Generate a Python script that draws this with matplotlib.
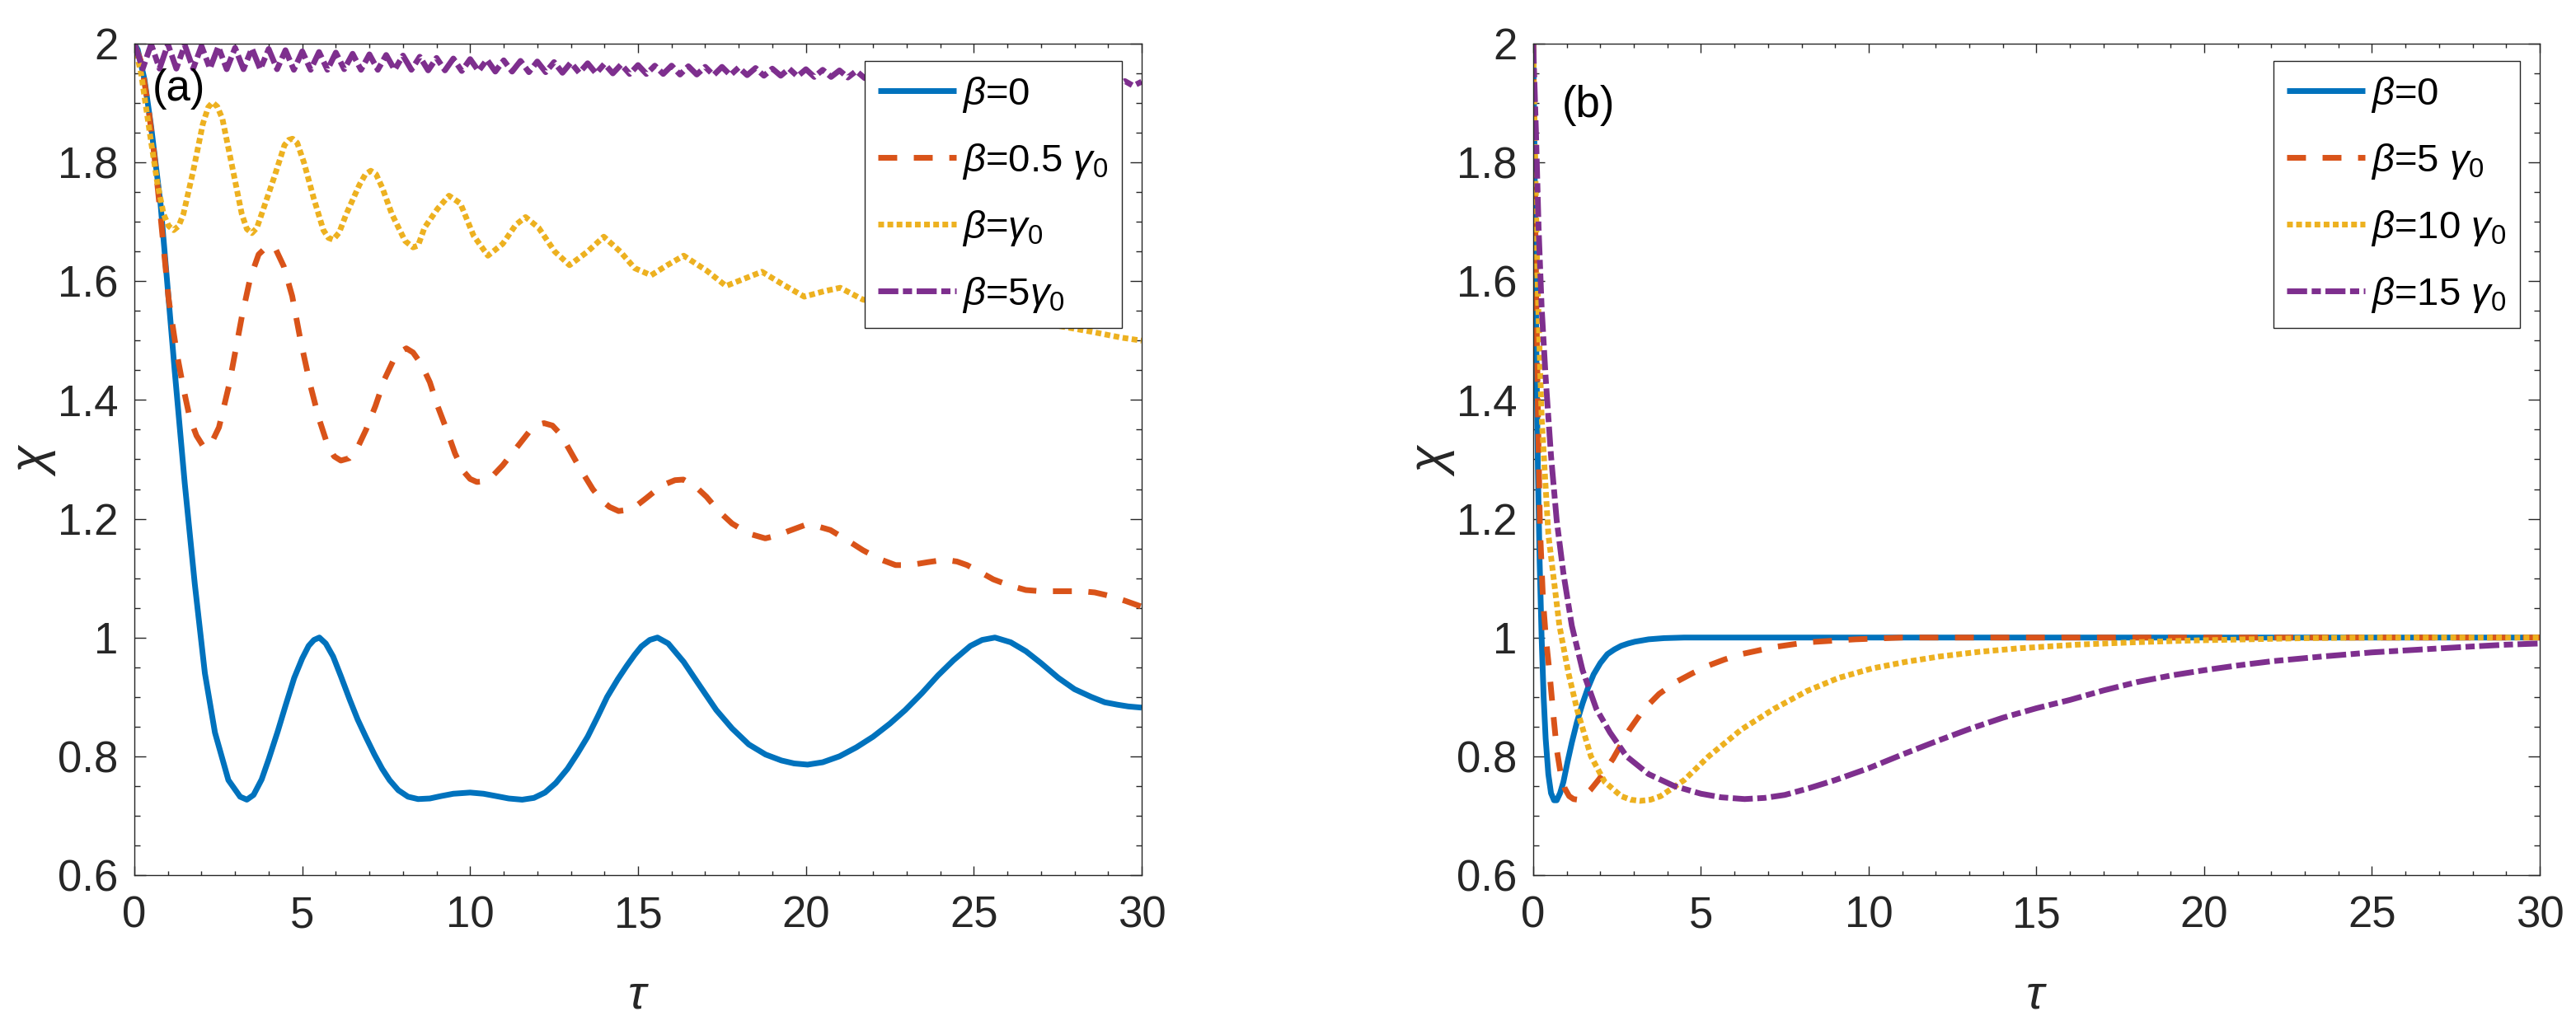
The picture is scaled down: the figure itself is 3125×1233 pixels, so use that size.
import matplotlib
matplotlib.use('Agg')
import matplotlib.pyplot as plt
from matplotlib.ticker import MultipleLocator, FixedLocator, FixedFormatter

plt.rcParams['font.family'] = ['Liberation Sans', 'DejaVu Sans']
plt.rcParams['mathtext.fontset'] = 'custom'
plt.rcParams['mathtext.rm'] = 'Liberation Sans'
plt.rcParams['mathtext.it'] = 'Liberation Sans:italic'
plt.rcParams['mathtext.bf'] = 'Liberation Sans:bold'

# ---------------- data: panel (a) ----------------
a_blue_t = [0, 0.1, 0.3, 0.5, 0.78, 0.9, 1.2, 1.5, 1.8, 2.1, 2.4, 2.8, 3.15, 3.35, 3.55, 3.79, 4.0, 4.27,
            4.5, 4.76, 5.0, 5.19, 5.35, 5.51, 5.7, 5.92, 6.15, 6.41, 6.65, 6.89, 7.15, 7.38, 7.6, 7.86,
            8.15, 8.45, 8.8, 9.13, 9.5, 10.0, 10.4, 10.78, 11.15, 11.55, 11.9, 12.23, 12.55, 12.9,
            13.2, 13.5, 13.8, 14.08, 14.4, 14.66, 14.9, 15.1, 15.35, 15.58, 15.9, 16.36, 16.8, 17.33,
            17.8, 18.3, 18.8, 19.27, 19.65, 20.05, 20.5, 21.0, 21.5, 22.0, 22.5, 22.96, 23.45, 23.93,
            24.4, 24.9, 25.25, 25.63, 26.1, 26.55, 27.0, 27.52, 28.0, 28.5, 28.9, 29.27, 29.6, 30.0]
a_blue_v = [2.0, 1.99, 1.94, 1.86, 1.73, 1.65, 1.45, 1.26, 1.09, 0.94, 0.84, 0.76, 0.732, 0.727, 0.735, 0.761, 0.795, 0.842,
            0.885, 0.932, 0.965, 0.986, 0.996, 1.0, 0.99, 0.968, 0.935, 0.896, 0.862, 0.833, 0.803, 0.779, 0.76, 0.743,
            0.732, 0.728, 0.729, 0.733, 0.737, 0.739, 0.737, 0.733, 0.729, 0.727, 0.73, 0.739, 0.755, 0.779,
            0.805, 0.833, 0.867, 0.90, 0.93, 0.952, 0.971, 0.985, 0.996, 1.0, 0.99, 0.959, 0.922, 0.878,
            0.847, 0.82, 0.803, 0.793, 0.788, 0.786, 0.79, 0.80, 0.815, 0.833, 0.855, 0.878, 0.906, 0.936,
            0.962, 0.986, 0.996, 1.0, 0.992, 0.977, 0.957, 0.932, 0.913, 0.90, 0.891, 0.887, 0.884, 0.882]

a_orange_t = [0, 0.2, 0.4, 0.6, 0.78, 1.02, 1.26, 1.46, 1.65, 1.85, 2.05, 2.25, 2.52, 2.82, 3.2, 3.45, 3.7,
              3.98, 4.2, 4.45, 4.7, 4.95, 5.24, 5.49, 5.75, 5.95, 6.15, 6.4, 6.65, 6.9, 7.18, 7.45, 7.7,
              7.9, 8.1, 8.3, 8.55, 8.8, 9.03, 9.3, 9.55, 9.8, 10.0, 10.2, 10.4, 10.6, 10.97, 11.36, 11.75,
              12.0, 12.2, 12.45, 12.7, 12.9, 13.15, 13.4, 13.65, 13.9, 14.15, 14.42, 14.7, 15.0, 15.25,
              15.49, 15.8, 16.1, 16.35, 16.7, 17.04, 17.4, 17.8, 18.3, 18.79, 19.15, 19.47, 19.95, 20.3,
              20.73, 21.2, 21.7, 22.2, 22.67, 23.1, 23.64, 24.13, 24.5, 24.8, 25.2, 25.58, 26.05, 26.55,
              27.0, 27.52, 28.2, 28.6, 28.98, 29.5, 30.0]
a_orange_v = [2.0, 1.97, 1.90, 1.81, 1.71, 1.57, 1.48, 1.42, 1.37, 1.34, 1.322, 1.322, 1.354, 1.425, 1.54, 1.605, 1.645,
              1.66, 1.655, 1.625, 1.575, 1.50, 1.425, 1.37, 1.325, 1.305, 1.298, 1.302, 1.32, 1.35, 1.39, 1.435, 1.465,
              1.48, 1.487, 1.48, 1.46, 1.43, 1.39, 1.35, 1.31, 1.28, 1.267, 1.262, 1.263, 1.268, 1.29, 1.318, 1.346,
              1.358, 1.361, 1.357, 1.342, 1.322, 1.297, 1.273, 1.25, 1.232, 1.22, 1.213, 1.215, 1.224, 1.235,
              1.246, 1.258, 1.265, 1.266, 1.255, 1.237, 1.213, 1.192, 1.175, 1.167, 1.172, 1.179, 1.189, 1.188,
              1.181, 1.165, 1.147, 1.132, 1.122, 1.122, 1.127, 1.131, 1.128, 1.122, 1.11, 1.098, 1.088, 1.08,
              1.078, 1.078, 1.078, 1.076, 1.071, 1.062, 1.052]

a_yellow_t = [0, 0.2, 0.49, 0.68, 0.87, 1.02, 1.17, 1.32, 1.46, 1.75, 2.04, 2.2, 2.33, 2.47, 2.62, 2.91, 3.2, 3.35,
              3.5, 3.65, 3.79, 4.17, 4.47, 4.6, 4.71, 4.85, 5.05, 5.34, 5.63, 5.78, 5.92, 6.1, 6.31, 6.7, 6.88,
              7.04, 7.2, 7.38, 7.67, 8.06, 8.3, 8.45, 8.64, 9.03, 9.37, 9.71, 10.1, 10.53, 10.97, 11.36, 11.65,
              12.04, 12.52, 12.96, 13.5, 13.98, 14.47, 14.9, 15.39, 15.87, 16.36, 17.04, 17.62, 18.2, 18.69,
              19.27, 19.95, 20.53, 21.02, 21.7, 22.5, 23.5, 24.5, 25.5, 26.5, 27.5, 28.5, 29.4, 30.0]
a_yellow_v = [2.0, 1.95, 1.838, 1.767, 1.713, 1.693, 1.686, 1.693, 1.713, 1.785, 1.865, 1.893, 1.901, 1.894, 1.874, 1.794,
              1.713, 1.688, 1.681, 1.69, 1.713, 1.776, 1.829, 1.838, 1.84, 1.833, 1.80, 1.74, 1.686, 1.673, 1.67, 1.682,
              1.713, 1.762, 1.78, 1.786, 1.78, 1.758, 1.713, 1.668, 1.657, 1.66, 1.69, 1.722, 1.744, 1.731,
              1.677, 1.643, 1.663, 1.695, 1.708, 1.69, 1.65, 1.627, 1.65, 1.675, 1.65, 1.622, 1.61, 1.627,
              1.643, 1.618, 1.592, 1.605, 1.616, 1.596, 1.574, 1.583, 1.589, 1.569, 1.562, 1.563, 1.55,
              1.545, 1.535, 1.525, 1.515, 1.505, 1.50]

a_purple_peak_t = [0, 0.5, 1.0, 1.5, 2.0, 2.5, 3.0, 3.5, 4.0, 4.5, 5.0, 5.5, 6.0, 6.5, 7.0, 7.5, 8.0, 8.5,
                   9.0, 9.5, 10.0, 10.5, 11.0, 11.5, 12.0, 12.5, 13.0, 13.5, 14.0, 14.5, 15.0, 15.5,
                   16.0, 16.5, 17.0, 17.5, 18.0, 18.5, 19.0, 19.5, 20.0, 20.5, 21.0, 21.5, 22.0, 22.5,
                   23.0, 23.5, 24.0, 24.5, 25.0, 25.5, 26.0, 26.5, 27.0, 27.5, 28.0, 28.5, 29.0, 29.5, 30.0]
a_purple_peak_v = [2.000, 1.999, 1.999, 1.998, 1.996, 1.995, 1.993, 1.992, 1.991, 1.989, 1.987, 1.986, 1.985,
                   1.983, 1.982, 1.981, 1.980, 1.978, 1.976, 1.975, 1.974, 1.973, 1.972, 1.971, 1.970,
                   1.969, 1.968, 1.967, 1.966, 1.965, 1.964, 1.963, 1.963, 1.962, 1.961, 1.961, 1.960,
                   1.959, 1.958, 1.958, 1.957, 1.956, 1.955, 1.954, 1.953, 1.953, 1.952, 1.951, 1.950,
                   1.949, 1.948, 1.948, 1.947, 1.946, 1.944, 1.943, 1.941, 1.940, 1.939, 1.937, 1.936]
a_purple_trough_t = [0.25, 0.75, 1.25, 1.75, 2.25, 2.75, 3.25, 3.75, 4.25, 4.75, 5.25, 5.75, 6.25, 6.75,
                     7.25, 7.75, 8.25, 8.75, 9.25, 9.75, 10.25, 10.75, 11.25, 11.75, 12.25, 12.75, 13.25,
                     13.75, 14.25, 14.75, 15.25, 15.75, 16.25, 16.75, 17.25, 17.75, 18.25, 18.75, 19.25,
                     19.75, 20.25, 20.75, 21.25, 21.75, 22.25, 22.75, 23.25, 23.75, 24.25, 24.75, 25.25,
                     25.75, 26.25, 26.75, 27.25, 27.75, 28.25, 28.75, 29.25, 29.75]
a_purple_trough_v = [1.958, 1.958, 1.958, 1.958, 1.958, 1.957, 1.957, 1.957, 1.957, 1.956, 1.956, 1.956,
                     1.957, 1.956, 1.956, 1.956, 1.956, 1.955, 1.955, 1.954, 1.954, 1.953, 1.953, 1.952,
                     1.952, 1.951, 1.951, 1.950, 1.950, 1.949, 1.949, 1.949, 1.948, 1.948, 1.947, 1.947,
                     1.947, 1.946, 1.946, 1.945, 1.944, 1.944, 1.943, 1.942, 1.942, 1.941, 1.940, 1.940,
                     1.939, 1.938, 1.937, 1.936, 1.935, 1.934, 1.933, 1.932, 1.932, 1.931, 1.930, 1.929]

# ---------------- data: panel (b) ----------------
b_blue_t = [0, 0.03, 0.06, 0.1, 0.14, 0.19, 0.25, 0.31, 0.37, 0.45, 0.53, 0.62, 0.7, 0.8, 0.9, 1.02, 1.15,
            1.3, 1.47, 1.63, 1.8, 2.0, 2.21, 2.42, 2.62, 2.83, 3.03, 3.44, 3.9, 4.5, 30.0]
b_blue_v = [2.0, 1.86, 1.69, 1.45, 1.28, 1.13, 1.0, 0.9, 0.83, 0.77, 0.738, 0.726, 0.726, 0.738, 0.757, 0.79, 0.823,
            0.857, 0.889, 0.915, 0.938, 0.957, 0.972, 0.98, 0.986, 0.99, 0.993, 0.997, 0.999, 1.0, 1.0]

b_orange_t = [0, 0.04, 0.08, 0.14, 0.20, 0.29, 0.37, 0.49, 0.6, 0.70, 0.82, 0.94, 1.07, 1.2, 1.33, 1.47, 1.7,
              1.97, 2.38, 2.87, 3.28, 3.75, 4.25, 4.75, 5.23, 5.7, 6.2, 7.18, 8.16, 9.6, 11.0, 30.0]
b_orange_v = [2.0, 1.80, 1.613, 1.38, 1.186, 1.065, 1.004, 0.938, 0.87, 0.812, 0.77, 0.746, 0.733, 0.728, 0.727, 0.73, 0.743,
              0.762, 0.796, 0.845, 0.878, 0.905, 0.925, 0.94, 0.953, 0.963, 0.972, 0.984, 0.992, 0.997, 1.0, 1.0]

b_yellow_t = [0, 0.06, 0.12, 0.25, 0.45, 0.78, 1.05, 1.31, 1.72, 2.13, 2.62, 2.9, 3.19, 3.5, 3.8, 4.5, 5.23,
              6.2, 7.18, 8.16, 9.1, 10.1, 11.1, 12.1, 13.3, 14.5, 16.2, 17.9, 19.6, 21.3, 23.0, 25.0, 30.0]
b_yellow_v = [2.0, 1.80, 1.613, 1.372, 1.174, 1.02, 0.94, 0.878, 0.80, 0.757, 0.733, 0.727, 0.725, 0.727, 0.733, 0.76, 0.80,
              0.845, 0.88, 0.91, 0.932, 0.948, 0.959, 0.968, 0.976, 0.982, 0.988, 0.992, 0.995, 0.997, 0.999, 1.0, 1.0]

b_purple_t = [0, 0.08, 0.16, 0.25, 0.37, 0.53, 0.70, 0.90, 1.15, 1.47, 1.88, 2.29, 2.78, 3.44, 4.2, 5.0,
              5.6, 6.3, 6.9, 7.5, 8.2, 9.0, 10.0, 11.0, 12.0, 13.0, 14.0, 15.0, 16.0, 17.0, 18.0, 19.0,
              20.0, 21.0, 22.0, 23.5, 25.0, 26.5, 28.0, 29.0, 30.0]
b_purple_v = [2.0, 1.854, 1.69, 1.557, 1.438, 1.306, 1.197, 1.108, 1.02, 0.945, 0.88, 0.84, 0.80, 0.77, 0.75, 0.737,
              0.731, 0.728, 0.73, 0.735, 0.746, 0.76, 0.78, 0.803, 0.825, 0.846, 0.865, 0.881, 0.895, 0.911, 0.925, 0.936,
              0.945, 0.953, 0.96, 0.968, 0.975, 0.98, 0.985, 0.988, 0.99]

a_labels = [r'$\beta$=0', r'$\beta$=0.5 $\gamma_0$', r'$\beta$=$\gamma_0$', r'$\beta$=5$\gamma_0$']
b_labels = [r'$\beta$=0', r'$\beta$=5 $\gamma_0$', r'$\beta$=10 $\gamma_0$', r'$\beta$=15 $\gamma_0$']
x_ticks = [0, 5, 10, 15, 20, 25, 30]
y_ticks = [0.6, 0.8, 1.0, 1.2, 1.4, 1.6, 1.8, 2.0]
y_ticklabels = ['0.6', '0.8', '1', '1.2', '1.4', '1.6', '1.8', '2']

# interleave purple peaks / troughs
a_purple = sorted(list(zip(a_purple_peak_t, a_purple_peak_v)) + list(zip(a_purple_trough_t, a_purple_trough_v)))
a_purple_t = [p[0] for p in a_purple]
a_purple_v = [p[1] for p in a_purple]

# ---------------- styling ----------------
C_BLUE, C_ORANGE, C_YELLOW, C_PURPLE = '#0072BD', '#D95319', '#EDB120', '#7E2F8E'
LW = 5.0
LS_SOLID = '-'
LS_DASH = (0, (3.3, 2.9))
LS_DOT = (0, (1.0, 0.6))
LS_DASHDOT = (0, (3.5, 0.8, 1.6, 0.8))
INK = '#262626'

W, H = 3125, 1233
fig = plt.figure(figsize=(W / 100, H / 100), dpi=100)
ax_top, ax_bot = 53, 1062
axL = fig.add_axes([163 / W, 1 - ax_bot / H, (1385 - 163) / W, (ax_bot - ax_top) / H])
axR = fig.add_axes([1860 / W, 1 - ax_bot / H, (3081 - 1860) / W, (ax_bot - ax_top) / H])


def style(ax):
    ax.set_xlim(0, 30)
    ax.set_ylim(0.6, 2)
    ax.xaxis.set_major_locator(FixedLocator(x_ticks))
    ax.yaxis.set_major_locator(FixedLocator(y_ticks))
    ax.yaxis.set_major_formatter(FixedFormatter(y_ticklabels))
    ax.xaxis.set_minor_locator(MultipleLocator(1))
    ax.yaxis.set_minor_locator(MultipleLocator(0.05))
    ax.tick_params(which='both', direction='in', top=True, right=True, width=1.0,
                   color=INK, labelcolor=INK, labelsize=38)
    ax.tick_params(axis='x', which='major', length=8, pad=18)
    ax.tick_params(axis='x', which='minor', length=3.6)
    ax.tick_params(axis='y', which='major', length=10, pad=14)
    ax.tick_params(axis='y', which='minor', length=5)
    for s in ax.spines.values():
        s.set_linewidth(1.0)
        s.set_color(INK)
    ax.set_xlabel(r'$\tau$', fontsize=42, color=INK, labelpad=32)
    ax.set_ylabel(r'$\chi$', fontsize=44, color=INK, labelpad=0)


def draw(ax, series, labels):
    handles = []
    for (t, v), col, ls in zip(series, [C_BLUE, C_ORANGE, C_YELLOW, C_PURPLE],
                               [LS_SOLID, LS_DASH, LS_DOT, LS_DASHDOT]):
        h, = ax.plot(t, v, color=col, lw=LW, linestyle=ls, solid_capstyle='butt',
                     dash_capstyle='butt', solid_joinstyle='round')
        handles.append(h)
    leg = ax.legend(handles, labels, loc='upper right', bbox_to_anchor=(0.980, 0.979),
                    borderaxespad=0, fontsize=34, frameon=True, fancybox=False,
                    edgecolor=INK, framealpha=1, handlelength=2.0, handletextpad=0.15,
                    labelspacing=0.7, borderpad=0.35)
    leg.get_frame().set_linewidth(1.0)


style(axL)
style(axR)
draw(axL, [(a_blue_t, a_blue_v), (a_orange_t, a_orange_v), (a_yellow_t, a_yellow_v),
           (a_purple_t, a_purple_v)], a_labels)
draw(axR, [(b_blue_t, b_blue_v), (b_orange_t, b_orange_v), (b_yellow_t, b_yellow_v),
           (b_purple_t, b_purple_v)], b_labels)

axL.text(0.54, 1.958, '(a)', fontsize=38, va='top', ha='left', color='black')
axR.text(0.86, 1.93, '(b)', fontsize=38, va='top', ha='left', color='black')

fig.savefig('out.png', dpi=100)
